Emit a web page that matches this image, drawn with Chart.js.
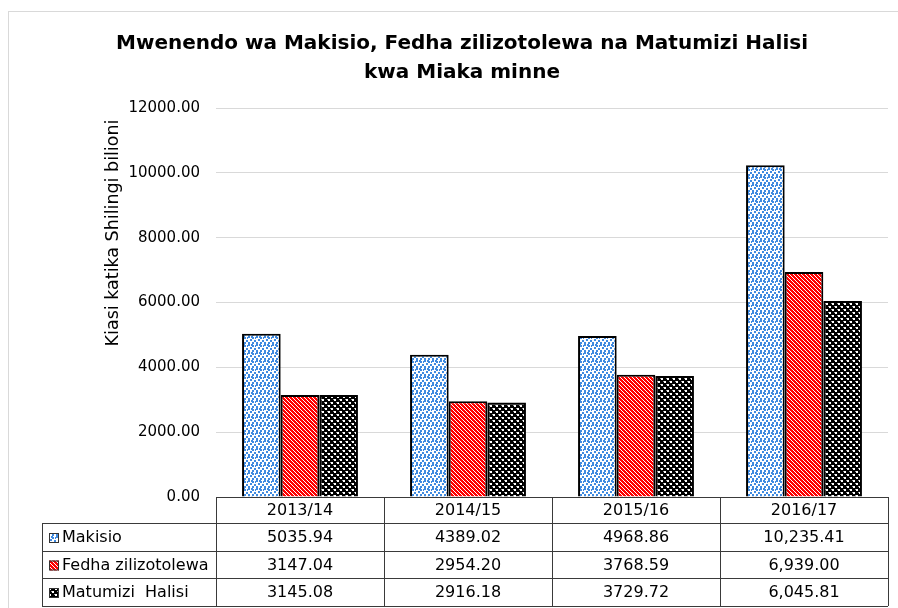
<!DOCTYPE html>
<html><head><meta charset="utf-8">
<script src="https://cdn.jsdelivr.net/npm/chart.js@4"></script>
<style>html,body{margin:0;padding:0;background:#fff;overflow:hidden}</style>
</head>
<body><canvas id="c" width="898" height="608"></canvas>
<script>
const categories = ['2013/14', '2014/15', '2015/16', '2016/17'];
const makisio = [5035.94, 4389.02, 4968.86, 10235.41];
const fedha = [3147.04, 2954.20, 3768.59, 6939.00];
const matumizi = [3145.08, 2916.18, 3729.72, 6045.81];
const seriesNames = ['Makisio', 'Fedha zilizotolewa', 'Matumizi  Halisi'];
const titleLines = ['Mwenendo wa Makisio, Fedha zilizotolewa na Matumizi Halisi', 'kwa Miaka minne'];
const yAxisTitle = 'Kiasi katika Shilingi bilioni';
const yMin = 0, yMax = 12000, yStep = 2000;

function fmt(v, i) {
  return i === 3 ? v.toLocaleString('en-US', {minimumFractionDigits: 2, maximumFractionDigits: 2}) : v.toFixed(2);
}

function makeTile(w, h, draw) {
  const c = document.createElement('canvas');
  c.width = w; c.height = h;
  const x = c.getContext('2d');
  draw(x);
  return document.getElementById('c').getContext('2d').createPattern(c, 'repeat');
}
const blueDots = makeTile(8, 8, x => {
  x.fillStyle = '#fff'; x.fillRect(0, 0, 8, 8);
  x.fillStyle = '#3f8ae0';
  [[0,0],[4,1],[2,3],[6,4],[0,6],[4,6],[7,1],[3,0]].forEach(p => x.fillRect(p[0], p[1], 2, 2));
});
const redStripes = makeTile(4, 4, x => {
  x.fillStyle = '#fff'; x.fillRect(0, 0, 4, 4);
  x.fillStyle = '#ff0000';
  for (let i = 0; i < 4; i++) for (let j = 0; j < 4; j++) {
    if (((i - j) % 4 + 4) % 4 < 3) x.fillRect(i, j, 1, 1);
  }
});
const blackSpheres = makeTile(6, 6, x => {
  x.fillStyle = '#000'; x.fillRect(0, 0, 6, 6);
  x.fillStyle = '#fff';
  x.fillRect(1, 0, 2, 2); x.fillRect(4, 3, 2, 2);
  x.fillStyle = '#999';
  x.fillRect(0, 0, 1, 1); x.fillRect(3, 3, 1, 1);
});
const fills = [blueDots, redStripes, blackSpheres];

const decor = {
  id: 'decor',
  beforeDraw(chart) {
    const ctx = chart.ctx;
    ctx.save();
    ctx.strokeStyle = '#d9d9d9'; ctx.lineWidth = 1;
    ctx.strokeRect(8.5, 11.5, 900, 620);
    ctx.restore();
  },
  afterDraw(chart) {
    const ctx = chart.ctx;
    const area = chart.chartArea;
    const xs = chart.scales.x;
    ctx.save();
    // title
    ctx.fillStyle = '#000';
    ctx.textAlign = 'center'; ctx.textBaseline = 'middle';
    ctx.font = 'bold 20px "DejaVu Sans"';
    ctx.fillText(titleLines[0], 462, 44);
    ctx.fillText(titleLines[1], 462, 73);
    // y title
    ctx.save();
    ctx.translate(113, 233);
    ctx.rotate(-Math.PI / 2);
    ctx.font = '17.5px "DejaVu Sans"';
    ctx.fillStyle = '#000';
    ctx.fillText(yAxisTitle, 0, 0);
    ctx.restore();
    // data table
    const n = categories.length;
    const cw = (area.right - area.left) / n;
    const top = area.bottom;
    const rowsY = [top, top + 26, top + 54, top + 81, top + 109];
    const leftX = 42;
    ctx.strokeStyle = '#3a3a3a'; ctx.lineWidth = 1;
    ctx.beginPath();
    ctx.moveTo(area.left, rowsY[0] + 0.5); ctx.lineTo(area.right, rowsY[0] + 0.5);
    for (let r = 1; r < rowsY.length; r++) {
      ctx.moveTo(leftX, rowsY[r] + 0.5); ctx.lineTo(area.right, rowsY[r] + 0.5);
    }
    ctx.moveTo(leftX + 0.5, rowsY[1]); ctx.lineTo(leftX + 0.5, rowsY[4]);
    for (let i = 0; i <= n; i++) {
      const x = Math.round(xs.getPixelForValue(Math.min(i, n - 1)) + (i === n ? cw / 2 : -cw / 2)) + 0.5;
      ctx.moveTo(x, rowsY[0]); ctx.lineTo(x, rowsY[4]);
    }
    ctx.stroke();
    ctx.fillStyle = '#000';
    ctx.font = '16px "DejaVu Sans"';
    ctx.textAlign = 'center';
    categories.forEach((c, i) => ctx.fillText(c, xs.getPixelForValue(i), (rowsY[0] + rowsY[1]) / 2 + 1));
    const ds = chart.data.datasets;
    ds.forEach((d, r) => {
      const cy = (rowsY[r + 1] + rowsY[r + 2]) / 2 + 1;
      ctx.textAlign = 'center';
      ctx.font = '16px "DejaVu Sans"';
      ctx.fillStyle = '#000';
      d.data.forEach((v, i) => ctx.fillText(fmt(v, i), xs.getPixelForValue(i), cy));
      // legend key
      ctx.fillStyle = fills[r];
      ctx.fillRect(49, cy - 5, 10, 10);
      ctx.strokeStyle = '#333';
      ctx.strokeRect(49.5, cy - 4.5, 9, 9);
      ctx.fillStyle = '#000';
      ctx.textAlign = 'left';
      ctx.font = '16px "DejaVu Sans"';
      ctx.fillText(d.label, 62, cy);
    });
    ctx.restore();
  }
};

new Chart(document.getElementById('c'), {
  type: 'bar',
  data: {
    labels: categories,
    datasets: [makisio, fedha, matumizi].map((arr, i) => ({
      label: seriesNames[i],
      data: arr,
      backgroundColor: fills[i],
      borderColor: '#000',
      borderWidth: 2,
      categoryPercentage: 0.69,
      barPercentage: 1.0
    }))
  },
  options: {
    responsive: false,
    animation: false,
    layout: { padding: { left: 95, right: 10, top: 108, bottom: 111 } },
    plugins: { legend: { display: false }, title: { display: false }, tooltip: { enabled: false } },
    scales: {
      x: { display: false },
      y: {
        min: yMin, max: yMax,
        afterFit(s) { s.width = 121; },
        border: { display: false },
        grid: { color: '#d9d9d9', lineWidth: 1, drawTicks: false },
        ticks: {
          stepSize: yStep, padding: 16, color: '#000',
          font: { family: 'DejaVu Sans', size: 15 },
          callback: v => Number(v).toFixed(2)
        }
      }
    }
  },
  plugins: [decor]
});
</script>
</body></html>
